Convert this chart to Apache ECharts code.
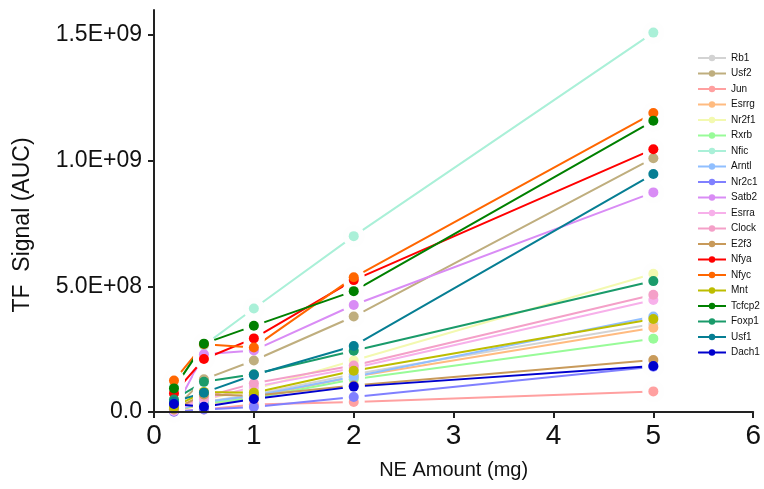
<!DOCTYPE html>
<html>
<head>
<meta charset="utf-8">
<script src="https://cdn.jsdelivr.net/npm/echarts@6/dist/echarts.min.js"></script>
<style>
  html, body { margin: 0; padding: 0; background: #fff; }
  #chart { width: 764px; height: 489px; }
</style>
</head>
<body>
<div id="chart"></div>
<script>
// NE amount (mg) on the x axis
const neAmount = [0.2, 0.5, 1, 2, 5];

// TF signal (AUC), in units of 1E+08, one array per factor
const rb1    = [0.05, 0.40, 0.70, 1.50, 3.50];
const usf2   = [0.10, 1.30, 2.05, 3.80, 10.10];
const jun    = [0.02, 0.10, 0.30, 0.40, 0.82];
const esrrg  = [0.05, 0.30, 0.60, 1.40, 3.35];
const nr2f1  = [0.10, 0.50, 0.90, 2.05, 5.50];
const rxrb   = [0.05, 0.35, 0.55, 1.30, 2.92];
const nfic   = [1.00, 2.65, 4.12, 7.00, 15.10];
const arntl  = [0.05, 0.40, 0.65, 1.40, 3.80];
const nr2c1  = [0.01, 0.10, 0.20, 0.60, 1.80];
const satb2  = [0.05, 2.30, 2.45, 4.26, 8.74];
const esrra  = [0.05, 0.50, 1.00, 1.75, 4.46];
const clock  = [0.10, 0.60, 1.14, 1.85, 4.67];
const e2f3   = [0.10, 0.70, 0.65, 1.05, 2.07];
const nfya   = [0.74, 2.11, 2.93, 5.25, 10.46];
const nfyc   = [1.25, 2.70, 2.57, 5.36, 11.90];
const mnt    = [0.20, 0.80, 0.77, 1.64, 3.70];
const tcfcp2 = [0.94, 2.72, 3.43, 4.81, 11.59];
const foxp1  = [0.50, 1.20, 1.50, 2.44, 5.21];
const usf1   = [0.41, 0.77, 1.47, 2.63, 9.47];
const dach1  = [0.32, 0.21, 0.52, 1.01, 1.83];
const UNIT = 1e8;

const names = ["Rb1", "Usf2", "Jun", "Esrrg", "Nr2f1", "Rxrb", "Nfic", "Arntl", "Nr2c1", "Satb2",
  "Esrra", "Clock", "E2f3", "Nfya", "Nfyc", "Mnt", "Tcfcp2", "Foxp1", "Usf1", "Dach1"];
const values = [rb1, usf2, jun, esrrg, nr2f1, rxrb, nfic, arntl, nr2c1, satb2,
  esrra, clock, e2f3, nfya, nfyc, mnt, tcfcp2, foxp1, usf1, dach1];
const colors = ["#d3d3d3", "#bfae7e", "#ffa0a0", "#ffbb80", "#f3f9b0", "#98fb98", "#aaf0d8", "#90bfff",
  "#8080ff", "#d98cf5", "#f7b0ea", "#f4a0c8", "#c89a5a", "#ff0000", "#ff6600", "#bdbd00",
  "#008000", "#1a9b6a", "#067e93", "#0000cd"];

const yTicks = [0, 5e8, 1e9, 1.5e9];
const xTicks = [0, 1, 2, 3, 4, 5, 6];

const font = "Liberation Sans, Arial, sans-serif";

function sci(v) {
  if (v === 0) return "0.0";
  const parts = v.toExponential(1).split("e");
  const exp = parts[1];
  const digits = exp.slice(1).padStart(2, "0");
  return parts[0] + "E" + exp[0] + digits;
}

const pointsOf = (i) => neAmount.map((x, j) => [x, values[i][j] * UNIT]);

const lineSeries = names.map((name, i) => ({
  name: name,
  type: "line",
  data: pointsOf(i),
  symbol: "circle",
  symbolSize: 8,
  showSymbol: false,
  z: 1,
  lineStyle: { color: colors[i], width: 2 },
  itemStyle: { color: colors[i] },
}));

// near-white discs that break the lines around each column of points
const gapSeries = names.map((name, i) => ({
  name: "gap" + i,
  type: "scatter",
  data: pointsOf(i),
  symbolSize: 22,
  z: 3,
  itemStyle: { color: "#fefefe", opacity: 1 },
}));

const pointSeries = names.map((name, i) => ({
  name: "pts" + i,
  type: "scatter",
  data: pointsOf(i),
  symbolSize: 10,
  z: 4,
  itemStyle: { color: colors[i], opacity: 1 },
}));

const chart = echarts.init(document.getElementById("chart"));
chart.setOption({
  animation: false,
  grid: { left: 154, right: 7, top: 10, bottom: 77, containLabel: false },
  legend: {
    data: names,
    orient: "vertical",
    left: 692,
    top: 47,
    itemWidth: 28,
    itemHeight: 8,
    itemGap: 3.5,
    textStyle: { fontFamily: font, fontSize: 10, color: "#111", lineHeight: 12 },
  },
  xAxis: {
    type: "value",
    min: 0,
    max: 6,
    interval: 1,
    z: 10,
    name: "NE Amount (mg)",
    nameLocation: "middle",
    nameGap: 48,
    nameTextStyle: { fontFamily: font, fontSize: 20, color: "#111" },
    axisLine: { lineStyle: { color: "#222", width: 2 } },
    axisTick: { show: true, length: 6, lineStyle: { color: "#222", width: 2 }, customValues: xTicks },
    axisLabel: { fontFamily: font, fontSize: 28, color: "#111", margin: 10, customValues: xTicks },
    splitLine: { show: false },
  },
  yAxis: {
    type: "value",
    min: 0,
    max: 1.6e9,
    interval: 5e8,
    z: 10,
    name: "TF  Signal (AUC)",
    nameLocation: "middle",
    nameGap: 120,
    nameTextStyle: { fontFamily: font, fontSize: 23, color: "#111", padding: [0, 28, 0, 0] },
    axisLine: { lineStyle: { color: "#222", width: 2 } },
    axisTick: { show: true, length: 6, lineStyle: { color: "#222", width: 2 }, customValues: yTicks },
    axisLabel: { fontFamily: font, fontSize: 23, color: "#111", margin: 12, customValues: yTicks, formatter: sci },
    splitLine: { show: false },
  },
  series: [...lineSeries, ...gapSeries, ...pointSeries],
});
</script>
</body>
</html>
